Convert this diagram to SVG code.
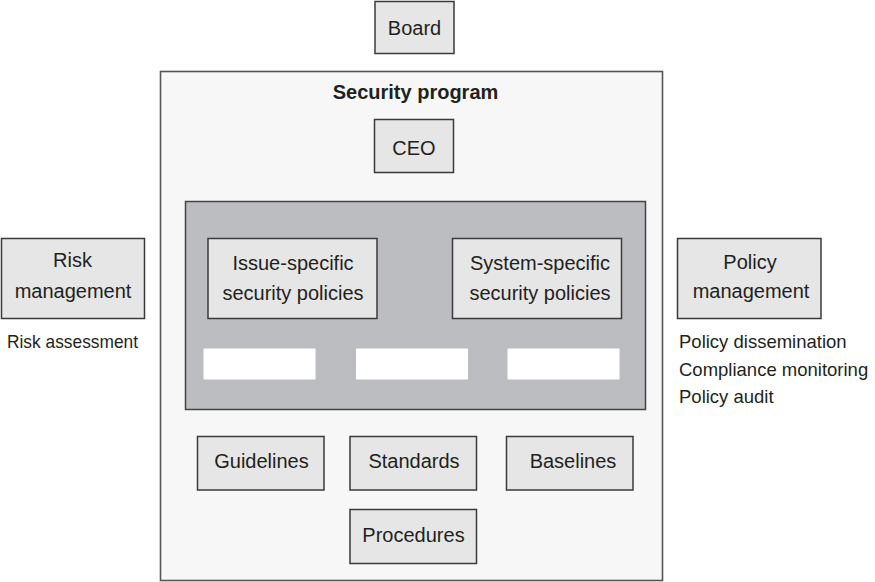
<svg xmlns="http://www.w3.org/2000/svg" width="875" height="582" viewBox="0 0 875 582">
<style>
  text { font-family: "Liberation Sans", Arial, sans-serif; font-size: 20px; fill: #231f20; }
  .c { text-anchor: middle; }
  .b { font-weight: bold; }
  .side { font-size: 18.5px; }
  .node { fill: #e6e6e6; stroke: #3a3a3a; stroke-width: 1.5; }
  .outer { fill: #f7f7f7; stroke: #555; stroke-width: 1.6; }
  .inner { fill: #bcbdc0; stroke: #444; stroke-width: 1.5; }
  .slot { fill: #ffffff; }
</style>
<rect width="875" height="582" fill="#ffffff"/>

<g id="security-program">
  <rect class="outer" x="160.5" y="71.5" width="502" height="509"/>
  <text class="c b" x="415.5" y="99" font-size="19.5">Security program</text>
</g>

<g id="board">
  <rect class="node" x="375" y="1.5" width="79" height="52"/>
  <text class="c" x="414.5" y="35">Board</text>
</g>

<g id="ceo">
  <rect class="node" x="374.5" y="119.5" width="79" height="53"/>
  <text class="c" x="414" y="155">CEO</text>
</g>

<g id="policies-area">
  <rect class="inner" x="185.5" y="201.5" width="460" height="208"/>
</g>

<g id="issue-specific">
  <rect class="node" x="208" y="238.5" width="169" height="80"/>
  <text class="c" x="293" y="270">Issue-specific</text>
  <text class="c" x="293" y="300">security policies</text>
</g>

<g id="system-specific">
  <rect class="node" x="452.5" y="238.5" width="169" height="80"/>
  <text class="c" x="540" y="270">System-specific</text>
  <text class="c" x="540" y="300">security policies</text>
</g>

<g id="slot-1"><rect class="slot" x="203.5" y="348.5" width="112" height="31"/></g>
<g id="slot-2"><rect class="slot" x="356" y="348.5" width="112" height="31"/></g>
<g id="slot-3"><rect class="slot" x="507.5" y="348.5" width="112" height="31"/></g>

<g id="risk-management">
  <rect class="node" x="1.5" y="238.5" width="143" height="80"/>
  <text class="c" x="72.5" y="267">Risk</text>
  <text class="c" x="73" y="298">management</text>
  <text class="side" x="7" y="348" textLength="131" lengthAdjust="spacingAndGlyphs">Risk assessment</text>
</g>

<g id="policy-management">
  <rect class="node" x="677.5" y="238.5" width="143.5" height="80"/>
  <text class="c" x="750" y="269">Policy</text>
  <text class="c" x="751" y="298">management</text>
  <text class="side" x="679" y="348">Policy dissemination</text>
  <text class="side" x="679" y="376">Compliance monitoring</text>
  <text class="side" x="679" y="403">Policy audit</text>
</g>

<g id="guidelines">
  <rect class="node" x="197.5" y="436.5" width="126.5" height="53.5"/>
  <text class="c" x="261.5" y="468">Guidelines</text>
</g>

<g id="standards">
  <rect class="node" x="350" y="436.5" width="126.5" height="53.5"/>
  <text class="c" x="414" y="468">Standards</text>
</g>

<g id="baselines">
  <rect class="node" x="506.5" y="436.5" width="126.5" height="53.5"/>
  <text class="c" x="573" y="468">Baselines</text>
</g>

<g id="procedures">
  <rect class="node" x="350" y="509.5" width="126.5" height="54"/>
  <text class="c" x="413.5" y="542">Procedures</text>
</g>

<g id="connectors"></g>
</svg>
